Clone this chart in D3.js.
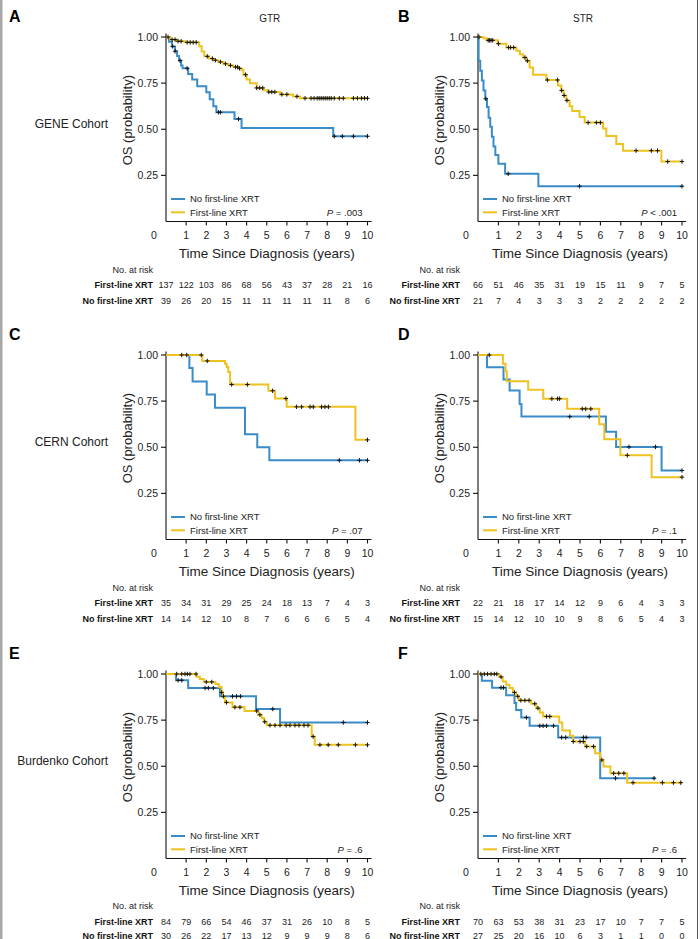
<!DOCTYPE html>
<html lang="en">
<head>
<meta charset="UTF-8" />
<title>OS by first-line XRT</title>
<script src="https://d3js.org/d3.v7.min.js"></script>
<style>
  body { margin: 0; background: #fff; }
  svg { display: block; font-family: "Liberation Sans", Arial, sans-serif; }
  .curve { fill: none; stroke-width: 2px; }
  .cens { stroke: #111; stroke-width: 1px; }
  .axis { stroke: #111; stroke-width: 1.1px; fill: none; }
</style>
</head>
<body>
<svg width="700" height="939"></svg>
<script>
const years = d3.range(0, 11);
const yTicks = [0.25, 0.5, 0.75, 1.0];
const yTickLabels = ["0.25", "0.50", "0.75", "1.00"];

// step curves: [time (years), survival after the step]
// A: GENE GTR
const geneGtrXrt = [[0,1],[0.2,0.986],[0.53,0.977],[0.94,0.971],[1.65,0.95],[1.77,0.922],[1.9,0.895],[2.13,0.883],[2.35,0.874],[2.6,0.865],[2.85,0.855],[3.1,0.846],[3.34,0.837],[3.59,0.83],[3.75,0.823],[3.84,0.796],[4.0,0.769],[4.17,0.75],[4.5,0.724],[4.83,0.711],[5.08,0.702],[5.66,0.689],[6.3,0.678],[6.65,0.668],[10,0.668]];
const geneGtrXrtCens = [0.1,0.3,0.45,0.6,0.75,1.05,1.2,1.35,1.5,2.05,2.3,2.45,2.7,2.95,3.2,3.45,3.55,3.65,3.95,4.5,4.65,4.8,5.1,5.25,5.4,5.75,6.0,6.5,6.9,7.2,7.35,7.5,7.6,7.7,7.8,7.9,8.0,8.1,8.2,8.35,8.6,8.8,9.3,9.5,9.7,9.85,10];
const geneGtrNo = [[0,1],[0.15,0.974],[0.3,0.949],[0.45,0.923],[0.55,0.897],[0.65,0.872],[0.75,0.846],[0.82,0.83],[1.1,0.8],[1.3,0.77],[1.55,0.733],[2.0,0.7],[2.17,0.662],[2.35,0.624],[2.5,0.592],[3.4,0.556],[3.75,0.507],[8.3,0.462],[10,0.462]];
const geneGtrNoCens = [0.33,0.45,0.7,1.05,2.6,2.7,3.6,8.35,8.75,9.3,10];
const geneGtrRiskXrt = [137,122,103,86,68,56,43,37,28,21,16];
const geneGtrRiskNo = [39,26,20,15,11,11,11,11,11,8,6];

// B: GENE STR
const geneStrXrt = [[0,1],[0.26,0.993],[0.42,0.982],[0.98,0.964],[1.39,0.943],[1.88,0.925],[2.05,0.907],[2.2,0.889],[2.37,0.871],[2.53,0.835],[2.7,0.796],[3.35,0.767],[3.92,0.737],[4.08,0.71],[4.2,0.683],[4.33,0.656],[4.49,0.624],[4.62,0.599],[4.98,0.567],[5.23,0.536],[6.13,0.504],[6.29,0.463],[6.78,0.42],[7.11,0.384],[8.99,0.325],[10,0.325]];
const geneStrXrtCens = [0.05,0.5,0.57,0.64,0.72,1.0,1.5,1.6,1.75,2.3,2.42,3.4,3.9,4.1,4.22,4.36,5.4,5.8,6.0,7.75,8.5,8.8,9.3,10];
const geneStrNo = [[0,1],[0.03,0.871],[0.11,0.817],[0.19,0.764],[0.27,0.71],[0.36,0.665],[0.44,0.62],[0.52,0.563],[0.6,0.513],[0.68,0.459],[0.76,0.406],[0.85,0.361],[1.0,0.313],[1.33,0.259],[2.96,0.191],[10,0.191]];
const geneStrNoCens = [0.38,1.48,4.98,10];
const geneStrRiskXrt = [66,51,46,35,31,19,15,11,9,7,5];
const geneStrRiskNo = [21,7,4,3,3,3,2,2,2,2,2];

// C: CERN GTR
const cernGtrXrt = [[0,1],[1.8,0.968],[2.93,0.953],[3.01,0.935],[3.09,0.908],[3.18,0.84],[5.08,0.806],[5.41,0.764],[5.99,0.719],[9.4,0.54],[10,0.54]];
const cernGtrXrtCens = [0.78,1.03,1.75,2.05,3.26,4.04,5.29,5.95,6.48,6.73,7.15,7.31,7.72,7.89,8.06,10];
const cernGtrNo = [[0,1],[1.16,0.929],[1.32,0.857],[2.02,0.786],[2.43,0.714],[3.92,0.571],[4.53,0.5],[5.13,0.429],[10,0.429]];
const cernGtrNoCens = [8.6,9.6,10];
const cernGtrRiskXrt = [35,34,31,29,25,24,18,13,7,4,3];
const cernGtrRiskNo = [14,14,12,10,8,7,6,6,6,5,4];

// D: CERN STR
const cernStrXrt = [[0,1],[1.22,0.953],[1.35,0.912],[1.41,0.858],[2.46,0.812],[3.2,0.763],[4.37,0.708],[5.94,0.624],[6.19,0.544],[6.98,0.456],[8.51,0.338],[10,0.338]];
const cernStrXrtCens = [0.55,3.62,3.9,4.0,5.11,5.28,5.53,7.32,10];
const cernStrNo = [[0,1],[0.44,0.934],[1.25,0.867],[1.55,0.807],[2.04,0.734],[2.13,0.666],[6.27,0.584],[6.77,0.502],[9.0,0.374],[10,0.374]];
const cernStrNoCens = [4.5,5.45,7.4,8.7,10];
const cernStrRiskXrt = [22,21,18,17,14,12,9,6,4,3,3];
const cernStrRiskNo = [15,14,12,10,10,9,8,6,5,4,3];

// E: Burdenko GTR
const burdGtrXrt = [[0,1],[1.52,0.985],[1.68,0.973],[1.88,0.957],[2.45,0.946],[2.62,0.929],[2.76,0.9],[2.83,0.875],[2.93,0.846],[3.3,0.82],[3.9,0.8],[4.58,0.779],[4.75,0.761],[4.87,0.741],[5.0,0.722],[7.23,0.661],[7.38,0.616],[10,0.616]];
const burdGtrXrtCens = [0.53,0.78,0.94,1.06,1.19,1.49,2.0,2.27,2.76,3.0,3.42,3.67,4.5,4.66,4.9,5.16,5.41,5.66,5.96,6.15,6.4,6.6,6.85,7.05,7.3,7.64,8.05,8.55,9.4,10];
const burdGtrNo = [[0,1],[0.5,0.966],[1.1,0.924],[2.68,0.879],[4.47,0.81],[5.66,0.737],[10,0.737]];
const burdGtrNoCens = [0.6,0.78,1.94,2.1,2.35,2.85,3.3,3.5,3.7,5.3,8.8,10];
const burdGtrRiskXrt = [84,79,66,54,46,37,31,26,10,8,5];
const burdGtrRiskNo = [30,26,22,17,13,12,9,9,9,8,6];

// F: Burdenko STR
const burdStrXrt = [[0,1],[1.05,0.984],[1.21,0.96],[1.38,0.942],[1.54,0.924],[1.71,0.9],[1.87,0.879],[2.0,0.857],[2.61,0.839],[2.86,0.815],[3.03,0.792],[3.19,0.77],[3.98,0.737],[4.13,0.694],[4.51,0.665],[4.67,0.634],[5.25,0.607],[5.74,0.571],[5.99,0.534],[6.15,0.498],[6.49,0.462],[7.31,0.411],[10,0.411]];
const burdStrXrtCens = [0.14,0.31,0.47,0.64,0.8,0.92,1.13,1.79,1.95,2.1,2.3,2.5,2.78,2.94,3.36,3.52,4.67,5.0,5.16,5.33,5.66,6.07,6.65,6.9,7.15,7.6,9.04,9.58,9.94];
const burdStrNo = [[0,1],[0.19,0.963],[0.69,0.926],[1.38,0.885],[1.79,0.843],[1.87,0.805],[2.12,0.764],[2.53,0.719],[3.93,0.656],[5.99,0.435],[8.7,0.435]];
const burdStrNoCens = [1.13,1.25,2.37,3.03,3.19,3.36,3.7,4.1,4.3,5.17,5.3,6.74,8.63];
const burdStrRiskXrt = [70,63,53,38,31,23,17,10,7,7,5];
const burdStrRiskNo = [27,25,20,16,10,6,3,1,1,0,0];

const pValues = ["= .003", "< .001", "= .07", "= .1", "= .6", "= .6"];
const letters = ["A", "B", "C", "D", "E", "F"];
const heads = ["GTR", "STR"];
const cohorts = ["GENE Cohort", "CERN Cohort", "Burdenko Cohort"];
const seriesNames = ["No first-line XRT", "First-line XRT"];

const blue = "#3a8cc8", yellow = "#eec21f";

const panels = [
  {xrt: geneGtrXrt, xrtC: geneGtrXrtCens, no: geneGtrNo, noC: geneGtrNoCens, rx: geneGtrRiskXrt, rn: geneGtrRiskNo},
  {xrt: geneStrXrt, xrtC: geneStrXrtCens, no: geneStrNo, noC: geneStrNoCens, rx: geneStrRiskXrt, rn: geneStrRiskNo},
  {xrt: cernGtrXrt, xrtC: cernGtrXrtCens, no: cernGtrNo, noC: cernGtrNoCens, rx: cernGtrRiskXrt, rn: cernGtrRiskNo},
  {xrt: cernStrXrt, xrtC: cernStrXrtCens, no: cernStrNo, noC: cernStrNoCens, rx: cernStrRiskXrt, rn: cernStrRiskNo},
  {xrt: burdGtrXrt, xrtC: burdGtrXrtCens, no: burdGtrNo, noC: burdGtrNoCens, rx: burdGtrRiskXrt, rn: burdGtrRiskNo},
  {xrt: burdStrXrt, xrtC: burdStrXrtCens, no: burdStrNo, noC: burdStrNoCens, rx: burdStrRiskXrt, rn: burdStrRiskNo}
];

const svg = d3.select("svg");

// frame edges
svg.append("rect").attr("x", 0).attr("y", 0).attr("width", 2.5).attr("height", 939).attr("fill", "#a8a8a8");
svg.append("line").attr("x1", 697.5).attr("x2", 697.5).attr("y1", 0).attr("y2", 939)
  .attr("stroke", "#555").attr("stroke-width", 1);

const colAxis = [166, 478], colEnd = [367.5, 682], colLab = [13, 18];
const rowOff = [0, 318, 637];
// baselines of the risk rows (heading, first-line, no first-line), per panel row
const riskY = [[272.5, 288, 303.5], [272.5, 288, 303.5], [271.5, 287.5, 301.5]];

function stepAt(curve, t) {
  let v = curve[0][1];
  for (const [tt, s] of curve) if (tt <= t) v = s;
  return v;
}

panels.forEach((p, i) => {
  const c = i % 2, r = Math.floor(i / 2);
  const g = svg.append("g").attr("transform", `translate(0,${rowOff[r]})`);
  const x = d3.scaleLinear().domain([0, 10]).range([colAxis[c], colEnd[c]]);
  const y = d3.scaleLinear().domain([0, 1]).range([221.5, 37]);
  const ax = colAxis[c];

  // letter and header
  g.append("text").attr("x", c ? 398 : 9).attr("y", 22).attr("font-size", 16).attr("font-weight", "bold").text(letters[i]);
  if (r === 0) g.append("text").attr("x", (x(0) + x(10)) / 2 + 3).attr("y", 22).attr("text-anchor", "middle")
    .attr("font-size", 10).attr("fill", "#222").text(heads[c]);
  if (c === 0) g.append("text").attr("x", 108).attr("y", 128).attr("text-anchor", "end")
    .attr("font-size", 12).attr("fill", "#222").text(cohorts[r]);

  // axes
  g.append("line").attr("class", "axis").attr("x1", ax).attr("x2", ax).attr("y1", y(1) - 3.5).attr("y2", y(0));
  g.append("line").attr("class", "axis").attr("x1", ax).attr("x2", x(10) + 4).attr("y1", y(0)).attr("y2", y(0));
  yTicks.forEach((v, k) => {
    g.append("line").attr("class", "axis").attr("x1", ax - 5).attr("x2", ax).attr("y1", y(v)).attr("y2", y(v));
    g.append("text").attr("x", ax - 8).attr("y", y(v)).attr("dy", "0.35em").attr("text-anchor", "end")
      .attr("font-size", 10.5).attr("fill", "#222").text(yTickLabels[k]);
  });
  years.forEach(t => {
    if (t > 0) g.append("line").attr("class", "axis").attr("x1", x(t)).attr("x2", x(t)).attr("y1", y(0)).attr("y2", y(0) + 4);
    g.append("text").attr("x", t === 0 ? ax - 12 : x(t)).attr("y", 239).attr("text-anchor", "middle")
      .attr("font-size", 10.5).attr("fill", "#222").text(t);
  });
  g.append("text").attr("transform", `translate(${ax - 39},${(y(1) + y(0.25)) / 2 + 14}) rotate(-90)`)
    .attr("text-anchor", "middle").attr("dy", "0.35em").attr("font-size", 13).attr("fill", "#222").text("OS (probability)");
  g.append("text").attr("x", (x(0) + x(10)) / 2).attr("y", 258).attr("text-anchor", "middle")
    .attr("font-size", 13.5).attr("fill", "#222").text("Time Since Diagnosis (years)");

  // curves
  const line = d3.line().x(d => x(d[0])).y(d => y(d[1])).curve(d3.curveStepAfter);
  g.append("path").attr("class", "curve").attr("stroke", blue).attr("d", line(p.no));
  g.append("path").attr("class", "curve").attr("stroke", yellow).attr("d", line(p.xrt));
  const cens = [...p.noC.map(t => [t, stepAt(p.no, t)]), ...p.xrtC.map(t => [t, stepAt(p.xrt, t)])];
  g.selectAll(null).data(cens).join("path").attr("class", "cens")
    .attr("d", d => `M${x(d[0]) - 2.2},${y(d[1])}h4.4M${x(d[0])},${y(d[1]) - 2.2}v4.4`);

  // legend
  [blue, yellow].forEach((col, k) => {
    const ly = 199 + k * 13.3;
    g.append("line").attr("x1", ax + 5).attr("x2", ax + 19).attr("y1", ly).attr("y2", ly)
      .attr("stroke", col).attr("stroke-width", 2);
    g.append("text").attr("x", ax + 24).attr("y", ly).attr("dy", "0.35em").attr("font-size", 9.5)
      .attr("fill", "#222").text(seriesNames[k]);
  });
  const pt = g.append("text").attr("x", x(10) - 5).attr("y", 212.3).attr("dy", "0.35em")
    .attr("text-anchor", "end").attr("font-size", 9.5).attr("fill", "#222");
  pt.append("tspan").attr("font-style", "italic").text("P");
  pt.append("tspan").text(" " + pValues[i]);

  // number at risk
  const lx = ax - colLab[c];
  const ry = riskY[r];
  g.append("text").attr("x", lx).attr("y", ry[0]).attr("text-anchor", "end").attr("font-size", 9).attr("fill", "#222").text("No. at risk");
  [[p.rx, "First-line XRT", ry[1]], [p.rn, "No first-line XRT", ry[2]]].forEach(([vals, lab, yy]) => {
    g.append("text").attr("x", lx).attr("y", yy).attr("text-anchor", "end").attr("font-size", 9)
      .attr("font-weight", "bold").attr("fill", "#111").text(lab);
    g.selectAll(null).data(vals).join("text").attr("x", (d, k) => x(years[k])).attr("y", yy)
      .attr("text-anchor", "middle").attr("font-size", 9).attr("fill", "#222").text(d => d);
  });
});
</script>
</body>
</html>
